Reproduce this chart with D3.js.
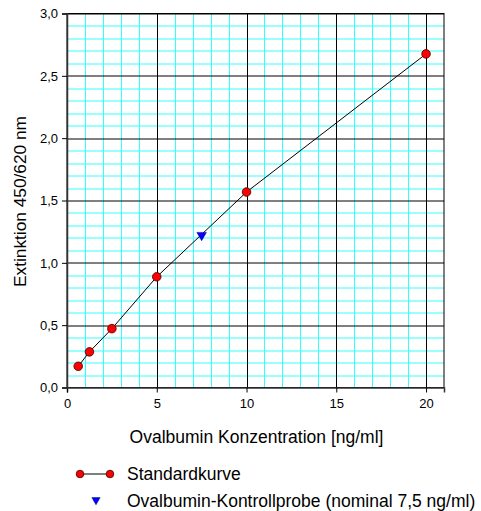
<!DOCTYPE html>
<html>
<head>
<meta charset="utf-8">
<script src="https://cdn.jsdelivr.net/npm/d3@7"></script>
<style>
  body { margin: 0; background: #fff; }
  text { font-family: "Liberation Sans", Arial, sans-serif; fill: #000; }
</style>
</head>
<body>
<div id="chart"></div>
<script>
// Standardkurve (x = ng/ml, y = Extinktion)
const stdConc = [0.625, 1.25, 2.5, 5, 10, 20];
const stdExt = [0.17, 0.286, 0.472, 0.888, 1.568, 2.676];
// Kontrollprobe
const ctrlConc = [7.5];
const ctrlExt = [1.222];

const xTicks = [0, 5, 10, 15, 20];
const yTicks = [0, 0.5, 1.0, 1.5, 2.0, 2.5, 3.0];
const legendLabels = ["Standardkurve", "Ovalbumin-Kontrollprobe (nominal 7,5 ng/ml)"];

(function () {
  const margin = { top: 13.5, right: 37, bottom: 123.5, left: 67 };
  const width = 481 - margin.left - margin.right;
  const height = 511 - margin.top - margin.bottom;

  const svg = d3.select("#chart")
    .append("svg")
    .attr("width", 481)
    .attr("height", 511);

  const g = svg.append("g")
    .attr("transform", "translate(" + margin.left + "," + margin.top + ")");

  const x = d3.scaleLinear().domain([0, 21]).range([0, width]);
  const y = d3.scaleLinear().domain([0, 3]).range([height, 0]);

  const fmt = d => d3.format(".1f")(d).replace(".", ",");

  // minor grid (cyan), every 1 ng/ml and every 0.1
  const minorX = d3.range(1, 21).filter(v => v % 5 !== 0);
  const minorY = d3.range(1, 30).filter(v => v % 5 !== 0).map(v => v / 10);

  g.selectAll(".minor-x").data(minorX).enter().append("line")
    .attr("x1", d => Math.round(x(d)) + 0.5).attr("x2", d => Math.round(x(d)) + 0.5)
    .attr("y1", 0).attr("y2", height)
    .attr("stroke", "#33ffff").attr("stroke-width", 1);

  g.selectAll(".minor-y").data(minorY).enter().append("line")
    .attr("y1", d => Math.round(y(d)) + 0.5).attr("y2", d => Math.round(y(d)) + 0.5)
    .attr("x1", 0).attr("x2", width)
    .attr("stroke", "#33ffff").attr("stroke-width", 1);

  // major grid (black)
  g.selectAll(".major-x").data(xTicks.filter(d => d > 0)).enter().append("line")
    .attr("x1", d => Math.round(x(d)) + 0.5).attr("x2", d => Math.round(x(d)) + 0.5)
    .attr("y1", 0).attr("y2", height)
    .attr("stroke", "#000").attr("stroke-width", 1);

  g.selectAll(".major-y").data(yTicks.filter(d => d > 0)).enter().append("line")
    .attr("y1", d => Math.round(y(d)) + 0.5).attr("y2", d => Math.round(y(d)) + 0.5)
    .attr("x1", 0).attr("x2", width)
    .attr("stroke", "#000").attr("stroke-width", 1);

  // frame
  g.append("rect")
    .attr("x", 0).attr("y", 0)
    .attr("width", width).attr("height", height)
    .attr("fill", "none").attr("stroke", "#000").attr("stroke-width", 1);

  // axes
  const xAxis = g.append("g")
    .attr("transform", "translate(0," + height + ")")
    .call(d3.axisBottom(x).tickValues(xTicks).tickSize(5).tickPadding(6).tickFormat(d3.format("d")));
  const yAxis = g.append("g")
    .call(d3.axisLeft(y).tickValues(yTicks).tickSize(5).tickPadding(4).tickFormat(fmt));

  [xAxis, yAxis].forEach(a => {
    a.select(".domain").attr("stroke", "#333").attr("stroke-width", 1.5);
    a.selectAll(".tick line").attr("stroke", "#000");
    a.selectAll(".tick text")
      .attr("font-family", "Liberation Sans, Arial, sans-serif")
      .attr("font-size", 13).attr("fill", "#000");
  });

  // axis titles
  svg.append("text")
    .attr("x", margin.left + width / 2 + 1)
    .attr("y", 443)
    .attr("text-anchor", "middle")
    .attr("font-size", 17.5)
    .text("Ovalbumin Konzentration [ng/ml]");

  svg.append("text")
    .attr("transform", "translate(26," + (margin.top + height / 2 + 1) + ") rotate(-90)")
    .attr("text-anchor", "middle")
    .attr("font-size", 17.3)
    .text("Extinktion 450/620 nm");

  // standard curve
  const stdData = stdConc.map((c, i) => ({ x: c, y: stdExt[i] }));
  const line = d3.line().x(d => x(d.x)).y(d => y(d.y));

  g.append("path")
    .datum(stdData)
    .attr("d", line)
    .attr("fill", "none")
    .attr("stroke", "#000")
    .attr("stroke-width", 1);

  g.selectAll(".std").data(stdData).enter().append("circle")
    .attr("cx", d => x(d.x)).attr("cy", d => y(d.y))
    .attr("r", 4.3)
    .attr("fill", "#ff0000").attr("stroke", "#400000").attr("stroke-width", 0.8);

  // control sample
  const ctrlData = ctrlConc.map((c, i) => ({ x: c, y: ctrlExt[i] }));
  const tri = d3.symbol().type(d3.symbolTriangle).size(40);

  g.selectAll(".ctrl").data(ctrlData).enter().append("path")
    .attr("d", tri)
    .attr("transform", d => "translate(" + x(d.x) + "," + y(d.y) + ") rotate(180)")
    .attr("fill", "#0000ff").attr("stroke", "#000080").attr("stroke-width", 0.5);

  // legend
  const leg = svg.append("g");
  leg.append("line")
    .attr("x1", 80).attr("x2", 110).attr("y1", 474).attr("y2", 474)
    .attr("stroke", "#000");
  leg.selectAll(".lm").data([80, 110]).enter().append("circle")
    .attr("cx", d => d).attr("cy", 474).attr("r", 3.8)
    .attr("fill", "#ff0000").attr("stroke", "#400000").attr("stroke-width", 0.8);
  leg.append("path")
    .attr("d", d3.symbol().type(d3.symbolTriangle).size(30))
    .attr("transform", "translate(96,500) rotate(180)")
    .attr("fill", "#0000ff").attr("stroke", "#000080").attr("stroke-width", 0.5);

  leg.selectAll(".lt").data(legendLabels).enter().append("text")
    .attr("x", 127)
    .attr("y", (d, i) => 480 + i * 27)
    .attr("font-size", 17.5)
    .text(d => d);
})();
</script>
</body>
</html>
